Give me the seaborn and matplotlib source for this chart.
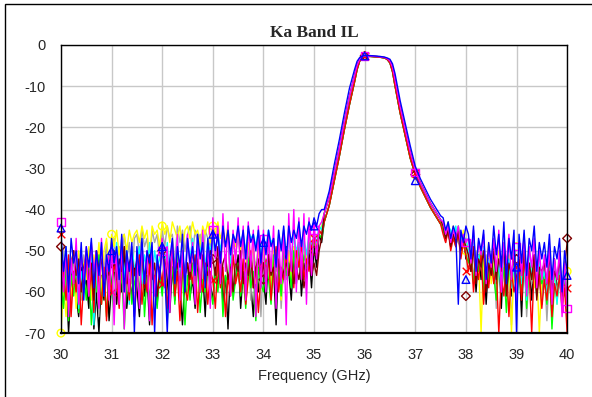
import numpy as np
import matplotlib.pyplot as plt
import seaborn as sns
from matplotlib.patches import Rectangle

# passband (shared shape, three slightly different widths)
pass_freq = [35.2, 35.3, 35.4, 35.5, 35.6, 35.7, 35.8, 35.85, 35.9, 35.95, 36.0, 36.1, 36.2, 36.3,
             36.4, 36.45, 36.5, 36.55, 36.6, 36.7, 36.8, 36.9, 37.0, 37.1, 37.2, 37.3, 37.4, 37.5]
pass_il = [-41, -37, -31, -25, -18.5, -12.5, -7.5, -5, -3.5, -2.9, -2.7, -2.7, -2.8, -2.9,
           -3.1, -3.4, -3.9, -5.5, -8.5, -15, -20.5, -26, -30.5, -33.5, -36, -38.5, -40.5, -42.5]
pass_il_wide = [-40, -35.5, -29, -23, -16.5, -10.5, -6, -4, -3.1, -2.7, -2.6, -2.6, -2.7, -2.8,
                -3.0, -3.2, -3.5, -4.6, -7, -13.5, -19, -24.5, -29.5, -32.5, -35, -37.5, -39.5, -41.5]
pass_il_narrow = [-43, -39, -33, -27, -20.5, -14.5, -9, -6, -4, -3.1, -2.8, -2.8, -2.9, -3.0,
                  -3.2, -3.6, -4.4, -6.5, -10, -16.5, -22, -27.5, -31.5, -34.5, -37, -39.5, -41.5, -43.5]

# noise floor below the band, 30.00 .. 35.15 GHz
black_left = [-52, -63, -55, -70, -58, -50, -61, -66, -54, -59,
              -57, -64, -51, -69, -60, -70, -56, -62, -53, -67,
              -58, -52, -63, -55, -60, -49, -64, -57, -61, -54,
              -59, -66, -53, -61, -56, -68, -52, -58, -63, -55,
              -60, -51, -57, -65, -54, -62, -50, -59, -68, -56,
              -53, -61, -57, -64, -52, -60, -55, -66, -51, -58,
              -62, -54, -59, -50, -63, -56, -69, -53, -60, -57,
              -51, -64, -55, -61, -49, -58, -66, -54, -60, -52,
              -57, -63, -50, -59, -54, -68, -52, -60, -56, -49,
              -55, -62, -51, -58, -48, -61, -53, -57, -50, -59,
              -49, -54, -46, -48]
gray_left = [-55, -49, -60, -52, -64, -50, -57, -53, -62, -51,
             -54, -60, -49, -58, -52, -66, -50, -55, -48, -61,
             -50, -47, -56, -49, -53, -46, -52, -48, -58, -47,
             -46, -51, -45, -49, -47, -55, -45, -48, -46, -52,
             -45, -49, -44, -47, -46, -53, -44, -48, -45, -50,
             -46, -44, -51, -45, -48, -46, -57, -45, -47, -49,
             -46, -50, -45, -53, -47, -49, -46, -60, -48, -51,
             -47, -52, -49, -58, -48, -62, -50, -54, -49, -66,
             -51, -56, -49, -60, -52, -55, -50, -64, -53, -57,
             -50, -55, -49, -58, -51, -54, -48, -52, -47, -53,
             -48, -50, -45, -46]
yellow_left = [-70, -58, -66, -52, -61, -55, -64, -50, -59, -53,
               -57, -49, -62, -51, -55, -48, -60, -50, -47, -54,
               -46, -49, -45, -51, -47, -46, -50, -45, -48, -46,
               -45, -48, -44, -47, -45, -52, -44, -46, -45, -49,
               -43, -46, -44, -48, -43, -45, -47, -44, -50, -45,
               -44, -47, -43, -46, -45, -49, -44, -46, -43, -48,
               -44, -46, -43, -47, -45, -48, -44, -51, -46, -49,
               -45, -50, -47, -55, -48, -52, -49, -58, -50, -53,
               -49, -55, -51, -59, -50, -54, -52, -62, -51, -56,
               -50, -57, -49, -53, -48, -55, -50, -52, -47, -51,
               -47, -49, -45, -44]
green_left = [-58, -64, -53, -67, -56, -61, -52, -65, -59, -55,
              -62, -54, -68, -57, -60, -51, -63, -56, -66, -53,
              -59, -65, -52, -61, -55, -69, -57, -53, -63, -58,
              -54, -60, -51, -66, -56, -62, -53, -58, -64, -55,
              -61, -52, -67, -57, -54, -63, -50, -59, -55, -68,
              -56, -62, -53, -58, -51, -65, -57, -60, -54, -59,
              -63, -55, -60, -52, -66, -56, -58, -51, -62, -57,
              -53, -61, -56, -64, -52, -59, -55, -67, -54, -58,
              -60, -52, -57, -63, -51, -58, -54, -61, -50, -56,
              -53, -59, -50, -55, -49, -57, -51, -54, -48, -52,
              -48, -50, -46, -47]
cyan_left = [-50, -56, -49, -62, -53, -58, -51, -64, -55, -60,
             -52, -59, -50, -68, -54, -57, -49, -61, -53, -58,
             -51, -55, -48, -60, -52, -56, -50, -63, -49, -54,
             -53, -49, -58, -51, -55, -48, -57, -50, -54, -52,
             -49, -54, -48, -57, -50, -53, -47, -56, -51, -55,
             -48, -52, -47, -55, -49, -51, -46, -54, -48, -50,
             -47, -51, -46, -50, -45, -49, -47, -53, -46, -48,
             -45, -48, -46, -50, -45, -47, -46, -49, -45, -52,
             -46, -50, -45, -48, -47, -53, -46, -49, -45, -51,
             -47, -52, -46, -50, -48, -55, -47, -51, -46, -49,
             -46, -48, -44, -45]
red_left = [-48, -56, -62, -51, -66, -55, -60, -53, -68, -57,
            -52, -61, -55, -65, -50, -58, -63, -54, -67, -56,
            -60, -53, -57, -64, -51, -59, -55, -62, -52, -66,
            -57, -51, -63, -55, -60, -53, -68, -56, -61, -54,
            -58, -52, -64, -56, -50, -61, -55, -67, -53, -59,
            -62, -54, -58, -51, -65, -56, -60, -53, -63, -55,
            -57, -64, -52, -59, -54, -66, -56, -61, -51, -58,
            -55, -60, -52, -63, -57, -50, -59, -54, -65, -56,
            -53, -58, -51, -62, -55, -49, -60, -54, -57, -52,
            -56, -51, -59, -50, -54, -48, -57, -52, -55, -49,
            -47, -50, -45, -46]
darkred_left = [-49, -55, -51, -58, -53, -50, -56, -52, -60, -54,
                -51, -57, -53, -62, -50, -55, -52, -59, -54, -56,
                -53, -50, -57, -52, -55, -49, -58, -53, -51, -56,
                -52, -56, -50, -59, -54, -51, -57, -53, -61, -55,
                -50, -54, -52, -58, -49, -55, -53, -60, -51, -56,
                -53, -57, -50, -55, -52, -59, -51, -54, -56, -50,
                -52, -56, -49, -58, -53, -51, -57, -54, -60, -52,
                -55, -50, -58, -53, -56, -51, -59, -54, -52, -57,
                -53, -58, -51, -56, -54, -60, -52, -57, -55, -53,
                -56, -52, -58, -54, -57, -53, -59, -55, -52, -56,
                -53, -56, -50, -47]
magenta_left = [-48, -60, -50, -66, -52, -58, -47, -63, -51, -57,
                -49, -61, -48, -55, -50, -64, -47, -59, -52, -62,
                -48, -68, -50, -63, -47, -69, -51, -60, -49, -66,
                -52, -64, -48, -58, -50, -67, -49, -61, -53, -57,
                -47, -59, -49, -65, -48, -56, -46, -62, -50, -58,
                -46, -55, -48, -63, -47, -60, -45, -57, -49, -64,
                -42, -52, -44, -58, -41, -55, -43, -61, -45, -53,
                -42, -57, -44, -62, -43, -54, -45, -66, -44, -59,
                -45, -60, -46, -55, -44, -64, -47, -58, -45, -68,
                -41, -55, -40, -60, -42, -57, -41, -63, -42, -56,
                -43, -52, -44, -43]
blue_left = [-46, -55, -49, -60, -47, -53, -50, -58, -48, -62,
             -49, -54, -47, -59, -50, -56, -48, -61, -51, -55,
             -47, -53, -49, -57, -46, -60, -50, -55, -48, -70,
             -49, -56, -47, -58, -50, -53, -48, -70, -51, -57,
             -48, -55, -70, -52, -47, -58, -49, -54, -46, -60,
             -47, -53, -49, -56, -46, -52, -48, -59, -47, -54,
             -45, -50, -46, -53, -44, -49, -45, -51, -46, -48,
             -44, -49, -45, -52, -44, -48, -46, -50, -45, -53,
             -46, -51, -45, -49, -47, -54, -45, -50, -44, -52,
             -44, -48, -45, -47, -43, -49, -44, -46, -43, -45,
             -42, -44, -41, -40]

# noise floor above the band, 37.55 .. 40.00 GHz
black_right = [-44, -47, -45, -49, -46, -48, -47, -50, -46, -52,
               -49, -55, -48, -60, -51, -57, -50, -63, -52, -56,
               -49, -58, -51, -64, -50, -55, -53, -61, -48, -59,
               -52, -66, -50, -57, -54, -62, -51, -58, -55, -63,
               -53, -60, -56, -64, -52, -59, -57, -62, -54, -66]
gray_right = [-45, -48, -44, -47, -46, -49, -45, -51, -47, -50,
              -52, -48, -57, -50, -54, -49, -62, -51, -58, -53,
              -50, -64, -52, -57, -49, -60, -54, -68, -51, -56,
              -53, -59, -50, -66, -55, -58, -52, -61, -56, -63,
              -54, -67, -55, -60, -53, -62, -57, -65, -55, -60]
yellow_right = [-44, -46, -45, -48, -44, -47, -46, -49, -45, -48,
                -50, -54, -49, -57, -52, -70, -51, -55, -48, -58,
                -52, -56, -50, -59, -53, -57, -51, -70, -54, -60,
                -49, -56, -52, -58, -55, -53, -59, -54, -70, -57,
                -55, -61, -53, -58, -56, -63, -54, -59, -57, -55]
green_right = [-45, -47, -43, -48, -46, -49, -44, -48, -47, -51,
               -53, -50, -58, -52, -55, -49, -60, -54, -57, -51,
               -56, -62, -52, -58, -54, -65, -53, -59, -50, -63,
               -55, -60, -51, -64, -53, -57, -52, -61, -54, -58,
               -56, -63, -53, -69, -58, -62, -55, -60, -57, -66]
cyan_right = [-43, -46, -44, -45, -47, -44, -48, -46, -49, -47,
              -50, -53, -48, -56, -51, -54, -49, -58, -52, -55,
              -51, -57, -53, -60, -50, -55, -52, -59, -54, -56,
              -50, -58, -53, -62, -49, -56, -54, -60, -52, -57,
              -55, -61, -52, -58, -56, -63, -54, -59, -57, -55]
red_right = [-46, -48, -45, -50, -47, -49, -46, -52, -48, -51,
             -55, -50, -60, -53, -57, -51, -63, -54, -59, -52,
             -58, -54, -70, -56, -61, -53, -66, -55, -60, -57,
             -54, -62, -52, -58, -55, -70, -53, -60, -56, -64,
             -57, -62, -55, -66, -58, -61, -56, -64, -59, -70]
darkred_right = [-44, -47, -45, -49, -46, -48, -45, -50, -47, -49,
                 -51, -55, -49, -58, -52, -54, -50, -60, -53, -56,
                 -50, -57, -52, -55, -49, -61, -53, -56, -51, -58,
                 -52, -56, -50, -59, -53, -57, -51, -62, -54, -55,
                 -53, -58, -51, -60, -55, -57, -52, -61, -54, -48]
magenta_right = [-43, -46, -44, -48, -45, -47, -44, -49, -46, -48,
                 -47, -53, -45, -56, -48, -51, -46, -58, -49, -54,
                 -47, -55, -45, -60, -48, -53, -46, -57, -49, -62,
                 -48, -56, -46, -61, -49, -54, -47, -59, -50, -57,
                 -51, -58, -49, -63, -52, -57, -50, -66, -53, -64]
blue_right = [-42, -45, -43, -47, -44, -46, -63, -45, -48, -44,
              -46, -52, -44, -55, -47, -50, -45, -57, -48, -53,
              -44, -51, -46, -54, -43, -58, -47, -52, -45, -70,
              -46, -53, -45, -56, -47, -50, -44, -55, -48, -52,
              -48, -54, -46, -57, -49, -52, -47, -60, -50, -55]

# markers every 1 GHz
marker_freq = [30, 31, 32, 33, 34, 35, 36, 37, 38, 39, 40]
blue_marks = [-44.5, -50, -49, -46, -48, -44, -2.7, -33, -57, -54, -56]
magenta_marks = [-43, -52, -50, -45, -47, -45, -2.7, -31, -48, -49, -64]
darkred_marks = [-49, -53, -50, -52, -57, -50, -2.7, -31.5, -61, -52, -47]
yellow_marks = [-70, -46, -44, -44, -49, -47, -2.7, -31.5, -50, -49, -55]
red_marks = [-46, -60, -58, -57, -53, -47, -2.7, -31, -55, -54, -59]

traces = [
    ("#000000", black_left, pass_il_narrow, black_right, None, None),
    ("#a6a6a6", gray_left, pass_il, gray_right, None, None),
    ("#ffff00", yellow_left, pass_il, yellow_right, "o", yellow_marks),
    ("#00ff00", green_left, pass_il_narrow, green_right, None, None),
    ("#00ffff", cyan_left, pass_il, cyan_right, None, None),
    ("#ff0000", red_left, pass_il_narrow, red_right, "x", red_marks),
    ("#800000", darkred_left, pass_il, darkred_right, "D", darkred_marks),
    ("#ff00ff", magenta_left, pass_il, magenta_right, "s", magenta_marks),
    ("#0000ff", blue_left, pass_il_wide, blue_right, "^", blue_marks),
]

sns.set_style("white")
plt.rcParams['font.family'] = ['Liberation Sans', 'DejaVu Sans']
plt.rcParams['axes.unicode_minus'] = False

fig = plt.figure(figsize=(5.92, 3.97), dpi=100)
ax = fig.add_axes([0.103, 0.161, 0.855, 0.726])

for i, (color, left, band, right, mk, marks) in enumerate(traces):
    x = np.concatenate([np.linspace(30, 35.15, len(left)), pass_freq,
                        np.linspace(37.55, 40, len(right))])
    y = np.concatenate([left, band, right])
    z = 2 + i * 0.1
    sns.lineplot(x=x, y=y, color=color, lw=1.0, ax=ax, sort=False, estimator=None, zorder=z)
    if mk is not None:
        if mk == "x":
            sns.scatterplot(x=marker_freq, y=marks, marker=mk, s=30, color=color,
                            linewidth=1, ax=ax, clip_on=False, zorder=z + 0.05)
        else:
            sns.scatterplot(x=marker_freq, y=marks, marker=mk, s=30 if mk != "D" else 20,
                            facecolor="none", edgecolor=color, linewidth=1, ax=ax,
                            clip_on=False, zorder=z + 0.05)

ax.set_xlim(30, 40)
ax.set_ylim(-70, 0)
ax.set_xticks(range(30, 41))
ax.set_yticks(range(-70, 1, 10))
ax.grid(True, color="#c8c8c8", lw=1)
ax.set_axisbelow(True)
for s in ax.spines.values():
    s.set_color("black")
    s.set_linewidth(1)
    s.set_zorder(10)
ax.spines["bottom"].set_linewidth(1.6)
ax.tick_params(axis="x", length=0, pad=11, labelsize=10.5)
ax.tick_params(axis="y", length=0, pad=11, labelsize=10.5)
ax.set_xlabel("Frequency (GHz)", fontsize=10.5, labelpad=5)
ax.set_ylabel("")
ax.set_title("Ka Band IL", fontfamily="Liberation Serif", fontweight="bold",
             fontsize=12.5, pad=6)

fig.add_artist(Rectangle((5 / 592, -0.1), 1.2, 1.09, transform=fig.transFigure,
                         fill=False, lw=1, edgecolor="black"))

fig.savefig("out.png", dpi=100)
